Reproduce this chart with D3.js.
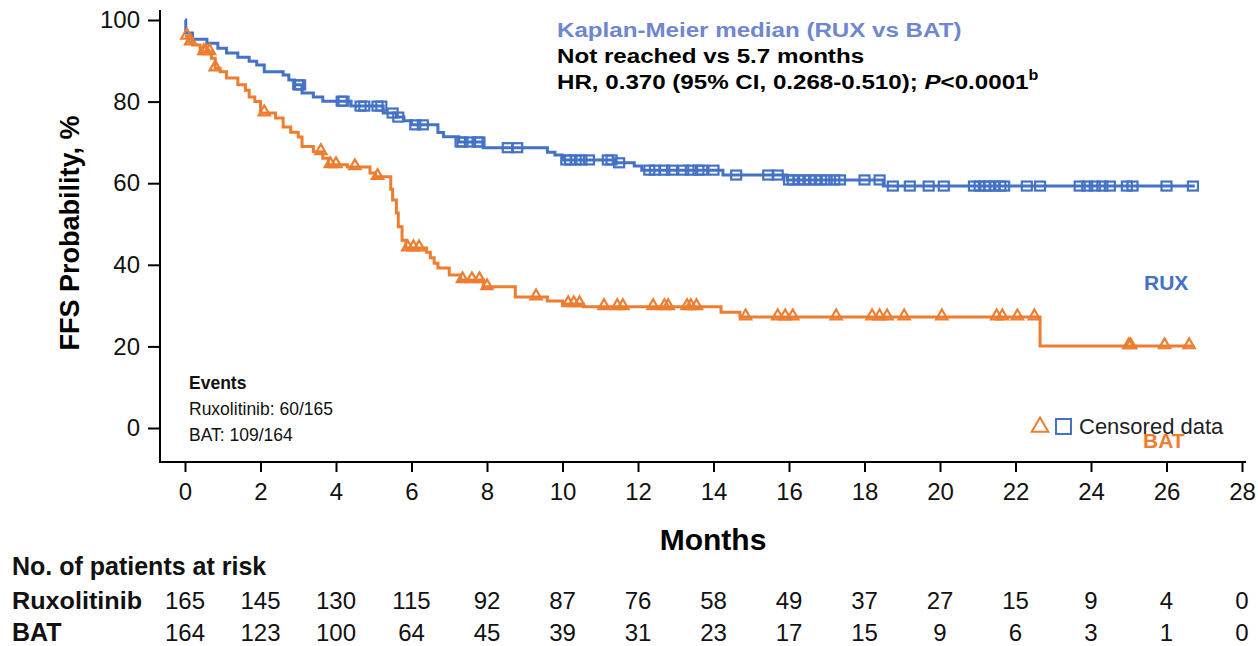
<!DOCTYPE html>
<html>
<head>
<meta charset="utf-8">
<script src="https://cdn.jsdelivr.net/npm/d3@7"></script>
<style>
  body { margin: 0; background: #fff; }
  svg { font-family: "Liberation Sans", Arial, sans-serif; }
</style>
</head>
<body>
<svg id="chart" width="1258" height="646"></svg>
<script>
// step curves: [month, FFS %]
const ruxSteps = [
  [0, 100], [0.02, 96.8], [0.2, 95.3], [0.58, 94.3], [0.87, 93.1], [1.1, 91.9],
  [1.4, 90.9], [1.7, 89.9], [1.9, 89.0], [2.1, 87.3], [2.6, 86.5], [2.75, 85.3],
  [2.9, 84.1], [3.1, 82.1], [3.4, 81.1], [3.65, 80.1], [4.4, 78.9], [5.25, 77.2],
  [5.6, 76.2], [5.8, 75.3], [6.0, 74.3], [6.7, 72.4], [6.85, 71.4], [7.25, 70.1],
  [7.9, 68.7], [9.6, 67.6], [9.8, 66.9], [10.0, 65.7], [11.4, 65.0], [11.9, 64.2],
  [12.1, 63.2], [14.25, 62.0], [15.95, 60.8], [18.5, 59.3], [26.75, 59.3]
];
const batSteps = [
  [0, 96.0], [0.1, 94.6], [0.2, 93.9], [0.4, 92.2], [0.7, 90.6], [0.8, 88.2],
  [0.93, 87.3], [1.1, 85.8], [1.4, 84.1], [1.6, 82.8], [1.7, 81.1], [1.85, 80.0],
  [2.0, 77.2], [2.4, 76.0], [2.6, 73.8], [2.8, 72.5], [3.0, 71.3], [3.1, 69.0],
  [3.4, 67.7], [3.65, 66.1], [3.8, 64.5], [4.3, 64.0], [4.9, 62.5], [5.05, 61.6],
  [5.45, 58.5], [5.5, 55.9], [5.6, 52.7], [5.65, 49.3], [5.75, 46.0], [5.85, 44.1],
  [6.4, 43.1], [6.5, 41.7], [6.6, 40.4], [6.7, 39.2], [7.0, 37.5], [7.3, 36.3],
  [7.9, 34.6], [8.75, 32.1], [9.6, 31.1], [10.0, 30.4], [10.55, 29.7], [14.2, 28.4],
  [14.7, 27.2], [22.65, 20.1], [26.7, 20.1]
];

// censoring times (months)
const ruxCensored = [
  3.0, 3.05, 4.15, 4.2, 4.65, 4.75, 5.1, 5.2, 5.5, 5.65, 6.1, 6.3, 7.3, 7.35, 7.55,
  7.75, 7.8, 8.55, 8.8, 10.1, 10.2, 10.35, 10.5, 10.7, 11.2, 11.3, 11.5, 12.3, 12.45,
  12.7, 12.9, 13.2, 13.4, 13.6, 13.7, 14.0, 14.6, 15.45, 15.7, 16.0, 16.1, 16.25,
  16.4, 16.55, 16.7, 16.85, 17.0, 17.2, 17.35, 18.0, 18.4, 18.75, 19.2, 19.7, 20.1,
  20.9, 21.05, 21.2, 21.3, 21.45, 21.6, 21.7, 22.3, 22.65, 23.7, 23.9, 24.1, 24.3,
  24.5, 24.95, 25.1, 26.0, 26.7
];
const batCensored = [
  0.05, 0.15, 0.5, 0.55, 0.65, 0.8, 2.1, 3.6, 3.85, 4.0, 4.5, 5.1, 5.9, 6.05, 6.2,
  7.35, 7.6, 7.8, 8.0, 9.3, 10.15, 10.3, 10.45, 11.1, 11.45, 11.6, 12.4, 12.7, 12.8,
  13.3, 13.4, 13.55, 14.85, 15.7, 15.9, 16.1, 17.25, 18.2, 18.4, 18.6, 19.05, 20.05,
  21.5, 21.65, 22.05, 22.5, 25.0, 25.05, 25.95, 26.6
];

const xTicks = d3.range(0, 29, 2);
const yTicks = [0, 20, 40, 60, 80, 100];
const ruxAtRisk = [165, 145, 130, 115, 92, 87, 76, 58, 49, 37, 27, 15, 9, 4, 0];
const batAtRisk = [164, 123, 100, 64, 45, 39, 31, 23, 17, 15, 9, 6, 3, 1, 0];

const BLUE = "#4472c4", ORANGE = "#ed7d31";
const FONT = "Liberation Sans, Arial, sans-serif";

const svg = d3.select("#chart");
const x = d3.scaleLinear().domain([0, 28]).range([185, 1242]);
const y = d3.scaleLinear().domain([0, 100]).range([428, 20]);

// axes
const yAxis = svg.append("g")
  .attr("transform", "translate(160,0)")
  .call(d3.axisLeft(y).tickValues(yTicks).tickSize(12).tickPadding(8))
  .call(g => g.select(".domain").remove());
yAxis.selectAll("line").attr("stroke", "#000").attr("stroke-width", 2);
yAxis.selectAll("text").attr("font-size", 24).attr("fill", "#111").style("font-family", FONT);

const xAxis = svg.append("g")
  .attr("transform", "translate(0,462)")
  .call(d3.axisBottom(x).tickValues(xTicks).tickSize(10).tickPadding(11))
  .call(g => g.select(".domain").remove());
xAxis.selectAll("line").attr("stroke", "#000").attr("stroke-width", 2);
xAxis.selectAll("text").attr("font-size", 24).attr("fill", "#111").style("font-family", FONT);

svg.append("path")
  .attr("d", "M160,10V462H1246")
  .attr("fill", "none").attr("stroke", "#000").attr("stroke-width", 2);

svg.append("text")
  .attr("transform", "translate(79,233) rotate(-90)")
  .attr("text-anchor", "middle")
  .attr("font-size", 27).attr("font-weight", "bold")
  .text("FFS Probability, %");

svg.append("text")
  .attr("x", 713).attr("y", 550)
  .attr("text-anchor", "middle")
  .attr("font-size", 30).attr("font-weight", "bold")
  .text("Months");

// curves
const line = d3.line()
  .x(d => x(d[0])).y(d => y(d[1]))
  .curve(d3.curveStepAfter);

const stepAt = (steps, t) => {
  let v = steps[0][1];
  for (const s of steps) { if (s[0] <= t) v = s[1]; }
  return v;
};

svg.append("path").datum(batSteps)
  .attr("d", line).attr("fill", "none")
  .attr("stroke", ORANGE).attr("stroke-width", 3);
svg.append("path").datum(ruxSteps)
  .attr("d", line).attr("fill", "none")
  .attr("stroke", BLUE).attr("stroke-width", 3);

const tri = d3.symbol().type(d3.symbolTriangle).size(55);
svg.append("g").selectAll("path")
  .data(batCensored).join("path")
  .attr("transform", d => `translate(${x(d)},${y(stepAt(batSteps, d)) - 1})`)
  .attr("d", tri)
  .attr("fill", "none").attr("stroke", ORANGE).attr("stroke-width", 2.2);

svg.append("g").selectAll("rect")
  .data(ruxCensored).join("rect")
  .attr("x", d => x(d) - 5).attr("y", d => y(stepAt(ruxSteps, d)) - 4.5)
  .attr("width", 10).attr("height", 9)
  .attr("fill", "none").attr("stroke", BLUE).attr("stroke-width", 2.2);

// annotation
const note = svg.append("g")
  .attr("transform", "translate(557,0) scale(1.15,1)")
  .attr("font-weight", "bold").attr("font-size", 21);
note.append("text").attr("x", 0).attr("y", 37).attr("fill", "#6f86d0")
  .text("Kaplan-Meier median (RUX vs BAT)");
note.append("text").attr("x", 0).attr("y", 63).attr("fill", "#000")
  .text("Not reached vs 5.7 months");
const hr = note.append("text").attr("x", 0).attr("y", 89).attr("fill", "#000");
hr.append("tspan").text("HR, 0.370 (95% CI, 0.268-0.510); ");
hr.append("tspan").attr("font-style", "italic").text("P");
hr.append("tspan").text("<0.0001");
hr.append("tspan").attr("font-size", 14).attr("dy", -9).text("b");

svg.append("text").attr("x", 1144).attr("y", 290)
  .attr("font-size", 21).attr("font-weight", "bold").attr("fill", BLUE).text("RUX");
svg.append("text").attr("x", 1143).attr("y", 448)
  .attr("font-size", 21).attr("font-weight", "bold").attr("fill", ORANGE).text("BAT");

// legend
svg.append("path")
  .attr("transform", "translate(1040,427)")
  .attr("d", d3.symbol().type(d3.symbolTriangle).size(120))
  .attr("fill", "none").attr("stroke", ORANGE).attr("stroke-width", 2);
svg.append("rect").attr("x", 1056).attr("y", 419).attr("width", 15).attr("height", 15)
  .attr("fill", "none").attr("stroke", BLUE).attr("stroke-width", 2);
svg.append("text").attr("x", 1079).attr("y", 434)
  .attr("font-size", 22).attr("fill", "#222").text("Censored data");

// events box
const ev = svg.append("g").attr("font-size", 17.5).attr("fill", "#111");
ev.append("text").attr("x", 189).attr("y", 389).attr("font-weight", "bold").text("Events");
ev.append("text").attr("x", 189).attr("y", 415).text("Ruxolitinib: 60/165");
ev.append("text").attr("x", 189).attr("y", 441).text("BAT: 109/164");

// at-risk table
const risk = svg.append("g").attr("fill", "#111");
risk.append("text").attr("x", 12).attr("y", 575)
  .attr("font-size", 25).attr("font-weight", "bold").text("No. of patients at risk");
risk.append("text").attr("x", 12).attr("y", 609)
  .attr("font-size", 24).attr("font-weight", "bold")
  .attr("textLength", 130).attr("lengthAdjust", "spacingAndGlyphs").text("Ruxolitinib");
risk.append("text").attr("x", 12).attr("y", 641)
  .attr("font-size", 25).attr("font-weight", "bold").text("BAT");

risk.append("g").selectAll("text")
  .data(ruxAtRisk).join("text")
  .attr("x", (d, i) => x(xTicks[i])).attr("y", 609)
  .attr("text-anchor", "middle").attr("font-size", 24).text(d => d);
risk.append("g").selectAll("text")
  .data(batAtRisk).join("text")
  .attr("x", (d, i) => x(xTicks[i])).attr("y", 641)
  .attr("text-anchor", "middle").attr("font-size", 24).text(d => d);
</script>
</body>
</html>
